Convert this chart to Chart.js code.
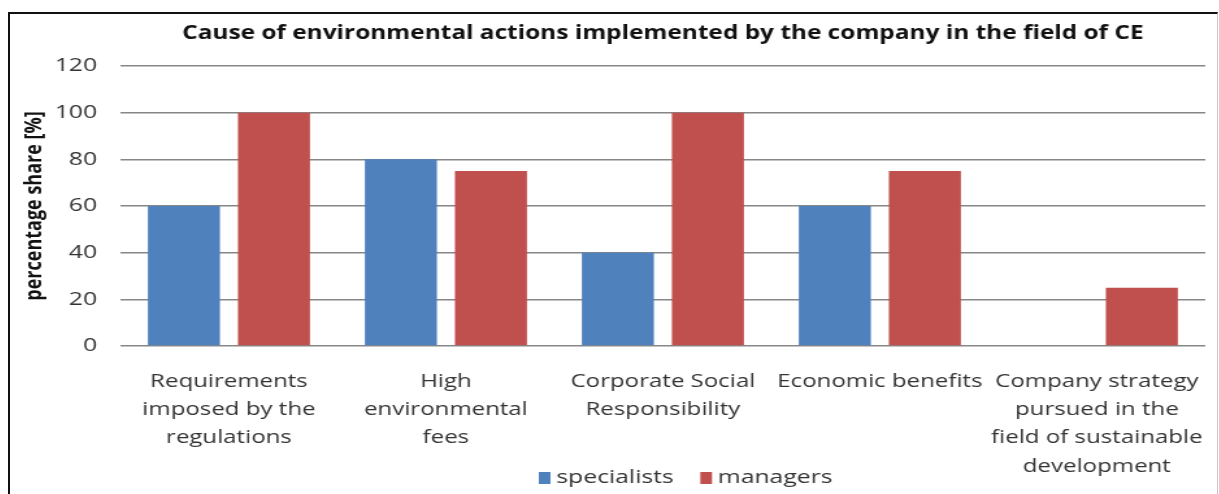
<!DOCTYPE html>
<html>
<head>
<meta charset="utf-8">
<script src="https://cdn.jsdelivr.net/npm/chart.js@4/dist/chart.umd.min.js"></script>
<style>
  html, body { margin: 0; padding: 0; background: #fff; overflow: hidden; }
  .frame {
    position: absolute; left: 8px; top: 12px;
    width: 1207px; height: 482px;
    border-left: 2px solid #111; border-top: 2px solid #111; border-right: 1px solid #c8c8c8;
  }
  /* the source picture is a stretched excel chart, so the canvas is drawn
     narrower and widened by css to get the same wide glyphs */
  #chart { display: block; width: 1207px; height: 482px; }
</style>
</head>
<body>
<div class="frame"><canvas id="chart" width="929" height="482" style="width:1207px;height:482px"></canvas></div>
<script>
const chartTitle = "Cause of environmental actions implemented by the company in the field of CE";
const categories = [
  ["Requirements", "imposed by the", "regulations"],
  ["High", "environmental", "fees"],
  ["Corporate Social", "Responsibility"],
  ["Economic benefits"],
  ["Company strategy", "pursued in the", "field of sustainable", "development"]
];
const specialists = [60, 80, 40, 60, 0];
const managers = [100, 75, 100, 75, 25];
const yTicks = [0, 20, 40, 60, 80, 100, 120];

const FONT = '"Open Sans", "DejaVu Sans", sans-serif';

// title + legend drawn by hand so they sit over the plot area like the excel chart
const overlay = {
  id: 'overlay',
  afterDraw(chart){
    const ctx = chart.ctx
    const area = chart.chartArea
    const cx = (area.left + area.right) / 2
    ctx.save()
    ctx.font = 'bold 18.8px ' + FONT
    ctx.fillStyle = '#111'
    ctx.textAlign = 'center'
    ctx.textBaseline = 'middle'
    ctx.fillText(chartTitle, cx, 20)

    // legend
    ctx.font = '19px ' + FONT
    ctx.textAlign = 'left'
    const items = chart.data.datasets.map(ds => ({label: ds.label, color: ds.backgroundColor}))
    const boxW = 9, boxH = 12, gap = 4.5, itemGap = 20.5
    let total = 0
    items.forEach((it, i) => {
      it.w = boxW + gap + ctx.measureText(it.label).width
      total += it.w + (i ? itemGap : 0)
    })
    let x = cx + 17.5 - total / 2
    const y = area.bottom + 132
    items.forEach(it => {
      ctx.fillStyle = it.color
      ctx.fillRect(x, y - boxH / 2, boxW, boxH)
      ctx.fillStyle = '#333'
      ctx.fillText(it.label, x + boxW + gap, y)
      x += it.w + itemGap
    })
    ctx.restore()
  }
}

new Chart(document.getElementById("chart"), {
  type: "bar",
  data: {
    labels: categories,
    datasets: [
      { label: "specialists", data: specialists, backgroundColor: "#4F81BD" },
      { label: "managers", data: managers, backgroundColor: "#C0504D" }
    ]
  },
  options: {
    responsive: false,
    animation: false,
    devicePixelRatio: 1,
    categoryPercentage: 0.83,
    barPercentage: 0.8,
    layout: { padding: { top: 52, right: 9, bottom: 0, left: 0 } },
    plugins: {
      legend: { display: false },
      title: { display: false },
      tooltip: { enabled: false }
    },
    scales: {
      x: {
        grid: { display: false },
        border: { display: false },
        ticks: {
          color: '#333',
          padding: 13,
          maxRotation: 0,
          autoSkip: false,
          font: { family: FONT, size: 18.5, lineHeight: 1.54 }
        },
        afterFit(scale){
          scale.height = 150
          scale.paddingLeft = 0
          scale.paddingRight = 0
        }
      },
      y: {
        min: 0,
        max: 120,
        afterBuildTicks(scale){ scale.ticks = yTicks.map(v => ({value: v})) },
        grid: { color: '#878787', lineWidth: 1.5, drawTicks: false },
        border: { display: false },
        ticks: {
          color: '#333',
          padding: 18,
          font: { family: FONT, size: 19 }
        },
        title: {
          display: true,
          text: "percentage share [%]",
          color: '#111',
          padding: { top: 8, bottom: 0 },
          font: { family: FONT, size: 18, weight: 'bold' }
        },
        afterFit(scale){ scale.width = 85 }
      }
    }
  },
  plugins: [overlay]
})
</script>
</body>
</html>
